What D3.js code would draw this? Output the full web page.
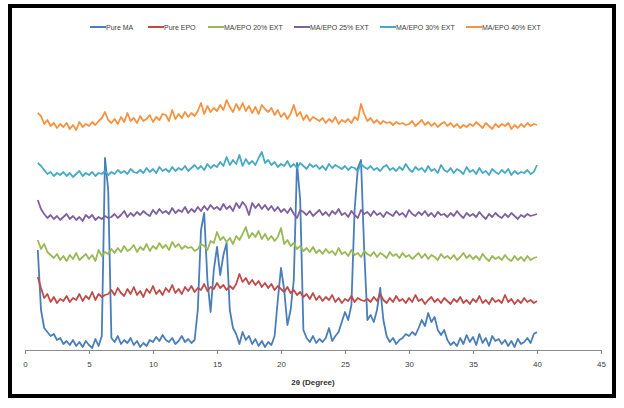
<!DOCTYPE html>
<html><head><meta charset="utf-8">
<script src="https://cdn.jsdelivr.net/npm/d3@7"></script>
<style>
html,body{margin:0;padding:0;background:#fff;}
svg{display:block;font-family:"Liberation Sans Narrow","Liberation Sans",Arial,sans-serif;}
</style></head>
<body>
<svg id="chart" width="624" height="408"></svg>
<script>
// 2θ sampling grid: 1° to 40° in 0.25° steps
const twoThetaStart = 1, twoThetaStep = 0.25;
const xTicks = [0, 5, 10, 15, 20, 25, 30, 35, 40, 45];
const seriesNames = ["Pure MA", "Pure EPO", "MA/EPO 20% EXT", "MA/EPO 25% EXT", "MA/EPO 30% EXT", "MA/EPO 40% EXT"];
const seriesColors = ["#4A7EBB", "#BE4B48", "#98B954", "#7D60A0", "#46AAC5", "#F69240"];

const pureMA = [
  100, 40, 22, 18, 14, 16, 10, 12,
  6, 9, 5, 10, 4, 8, 3, 9,
  5, 2, 11, 4, 14, 192, 160, 12,
  8, 14, 6, 10, 7, 12, 5, 9,
  3, 7, 4, 10, 8, 13, 9, 15,
  10, 8, 12, 6, 9, 14, 8, 11,
  7, 10, 40, 120, 137, 70, 38, 80,
  103, 75, 95, 107, 40, 22, 16, 6,
  18, 10, 14, 6, 11, 4, 9, 3,
  8, 5, 14, 50, 82, 60, 25, 40,
  70, 187, 150, 20, 12, 8, 14, 7,
  11, 8, 12, 22, 9, 14, 18, 28,
  38, 30, 45, 140, 182, 190, 100, 30,
  35, 28, 40, 62, 30, 14, 8, 12,
  6, 10, 12, 16, 14, 18, 15, 22,
  30, 24, 37, 28, 33, 20, 15, 20,
  10, 5, 8, 4, 12, 6, 15, 8,
  13, 5, 16, 7, 12, 4, 14, 9,
  11, 6, 10, 4, 9, 3, 11, 6,
  8, 12, 7, 16, 18
];
const pureEPO = [
  73, 62, 52, 56, 48, 53, 47, 51,
  49, 54, 48, 52, 50, 56, 49, 54,
  51, 58, 50, 56, 53, 55, 56, 60,
  55, 62, 57, 54, 61, 56, 63, 55,
  59, 53, 61, 57, 64, 56, 60, 55,
  62, 58, 65, 57, 61, 56, 63, 59,
  64, 58, 62, 60, 66, 59, 63, 61,
  67, 62, 65, 60, 64, 61, 66, 76,
  68, 72, 66, 70, 65, 69, 63, 67,
  62, 66, 60, 64, 61, 58, 63, 57,
  60, 55, 58, 53, 56, 51, 57, 50,
  54, 49, 53, 50, 55, 48, 52, 47,
  51, 49, 54, 48, 52, 50, 49, 51,
  48, 53, 49, 56, 50, 47, 52, 48,
  54, 49, 51, 47, 52, 48, 55, 49,
  51, 46, 50, 53, 48, 51, 47, 52,
  49, 46, 51, 48, 53, 47, 50, 46,
  51, 48, 54, 47, 50, 46, 52, 48,
  50, 47, 55, 48, 51, 46, 50, 47,
  52, 48, 50, 47, 49
];
const ext20 = [
  110, 101, 106, 98, 95, 92, 96, 90,
  94, 89, 95, 91, 97, 90, 93, 96,
  91, 95, 89, 100, 94, 98, 96, 101,
  97, 102, 98, 104, 99, 101, 105, 98,
  103, 100, 106, 99, 104, 101, 107, 102,
  105, 100, 108, 103, 106, 101, 104, 102,
  103, 99, 101, 106, 104, 100, 109, 107,
  118, 110, 113, 108, 112, 106, 114, 110,
  116, 123, 112, 117, 113, 119, 111, 116,
  110, 114, 109, 113, 122, 106, 110, 104,
  107, 101, 104, 99, 102, 98, 103, 97,
  100, 96, 101, 97, 99, 95, 102, 96,
  98, 94, 100, 95, 97, 93, 99, 96,
  94, 98, 93, 97, 95, 92, 98, 94,
  96, 92, 97, 93, 95, 91, 94, 97,
  92, 96, 91, 95, 93, 90, 96, 92,
  94, 91, 95, 90, 93, 97, 92, 95,
  91, 94, 90, 96, 92, 89, 94, 91,
  93, 90, 95, 91, 89, 94, 90, 93,
  89, 94, 90, 92, 93
];
const ext25 = [
  150, 141, 136, 132, 135, 131, 134, 130,
  133, 136, 131, 134, 130, 133, 129, 135,
  132, 135, 130, 133, 131, 134, 132, 133,
  136, 132, 135, 139, 133, 137, 134, 138,
  135, 139, 136, 134, 140, 136, 141, 137,
  139, 136, 142, 137, 140, 138, 143, 137,
  141, 138, 143, 139, 144, 140, 145, 141,
  143, 140, 146, 141, 144, 139, 147, 142,
  148, 144, 135, 147, 142, 146, 141, 145,
  140, 144, 139, 143, 138, 141, 137, 142,
  136, 132, 140, 138, 135, 139, 134, 137,
  140, 135, 138, 134, 139, 136, 141, 135,
  137, 133, 139, 135, 132, 140, 136, 138,
  134, 139, 135, 137, 133, 138, 136, 134,
  139, 135, 137, 133, 140, 136, 134, 138,
  135, 139, 134, 137, 133, 138, 135, 136,
  133, 137, 134, 139, 135, 132, 137, 134,
  136, 133, 138, 134, 131, 136, 133, 137,
  134, 132, 136, 133, 137, 134, 131, 135,
  133, 136, 134, 135, 136
];
const ext30 = [
  187, 184, 180, 176, 178, 174, 177, 175,
  178, 174, 177, 173, 176, 179, 174, 177,
  175, 178, 174, 177, 176, 179, 175, 178,
  176, 180, 177, 179, 176, 181, 178, 177,
  180, 177, 182, 178, 181, 177, 183, 179,
  181, 178, 183, 179, 182, 180, 184, 179,
  182, 185, 181, 184, 180, 186, 182, 185,
  183, 188, 184, 193, 185, 190, 186, 195,
  184, 191, 186, 189, 185, 192, 198, 187,
  190, 185, 188, 183, 186, 184, 189, 183,
  186, 182, 187, 184, 181, 186, 183, 185,
  181, 184, 180, 186, 182, 185, 183, 181,
  184, 180, 183, 182, 179, 186, 183, 181,
  184, 180, 182, 179, 183, 185, 180, 182,
  179, 183, 180, 186, 181, 178, 183, 180,
  182, 178, 184, 179, 181, 177, 185, 180,
  178, 182, 177, 181, 179, 176, 183, 178,
  180, 176, 182, 177, 179, 175, 181, 178,
  176, 180, 177, 181, 175, 179, 176, 178,
  177, 180, 176, 178, 185
];
const ext40 = [
  237, 234, 226, 230, 224, 227, 222, 226,
  223, 227, 221, 225, 220, 228, 223, 226,
  224, 228, 225, 229, 232, 238, 230, 227,
  231, 226, 233, 228, 237, 229, 232, 227,
  234, 229, 231, 235, 228, 233, 230, 236,
  235, 229, 240, 231, 236, 232, 238, 233,
  237, 234, 239, 247, 236, 244, 238, 242,
  239, 245, 240, 250, 243, 238, 246, 240,
  247, 239, 244, 237, 243, 236, 245, 241,
  238, 242, 235, 240, 233, 237, 231, 236,
  245, 234, 238, 230, 235, 229, 233, 231,
  229, 232, 227, 231, 228, 233, 226, 230,
  228, 231, 227, 233, 230, 246, 236, 229,
  232, 227, 230, 226, 229, 227, 228, 225,
  228, 226, 227, 225, 226, 229, 224, 227,
  230, 225, 228, 224, 227, 223, 226, 228,
  224, 227, 223, 226, 222, 225, 223, 226,
  224, 228, 225, 222, 227, 224, 221, 226,
  223, 226, 224, 227, 221, 225, 222, 226,
  223, 227, 224, 226, 225
];
const seriesValues = [pureMA, pureEPO, ext20, ext25, ext30, ext40];

const svg = d3.select("#chart");

// outer frame
svg.append("rect").attr("x", 10).attr("y", 6).attr("width", 604).attr("height", 390)
  .attr("fill", "none").attr("stroke", "#000").attr("stroke-width", 4);

const x = d3.scaleLinear().domain([0, 45]).range([25, 601]);
const y = d3.scaleLinear().domain([0, 350]).range([350, 0]);
const axisY = 350;

// x axis
const xAxis = d3.axisBottom(x).tickValues(xTicks).tickSize(4).tickPadding(7).tickFormat(d3.format("d"));
const gx = svg.append("g").attr("transform", `translate(0,${axisY})`).call(xAxis);
gx.select(".domain").attr("stroke", "#8c8c8c").attr("stroke-width", 1);
gx.selectAll(".tick line").attr("stroke", "#8c8c8c");
gx.selectAll(".tick text").attr("fill", "#404040").style("font-size", "8px");

svg.append("text").attr("x", x(22.5)).attr("y", 385).attr("text-anchor", "middle")
  .style("font-size", "8px").style("font-weight", "bold").attr("fill", "#303030")
  .text("2θ (Degree)");

// lines
const line = d3.line()
  .x((d, i) => x(twoThetaStart + i * twoThetaStep))
  .y(d => y(d));

seriesValues.forEach((vals, k) => {
  svg.append("path").datum(vals)
    .attr("fill", "none").attr("stroke", seriesColors[k])
    .attr("stroke-width", 1.8).attr("stroke-linejoin", "round")
    .attr("d", line);
});

// legend
const legendX = [90, 148, 208, 294, 380, 466];
const lg = svg.append("g").attr("transform", "translate(0,27)");
seriesNames.forEach((name, k) => {
  lg.append("line").attr("x1", legendX[k]).attr("x2", legendX[k] + 16)
    .attr("y1", 0).attr("y2", 0).attr("stroke", seriesColors[k]).attr("stroke-width", 2);
  lg.append("text").attr("x", legendX[k] + 16).attr("y", 2.5)
    .style("font-size", "7px").attr("fill", "#404040").text(name);
});
</script>
</body></html>
